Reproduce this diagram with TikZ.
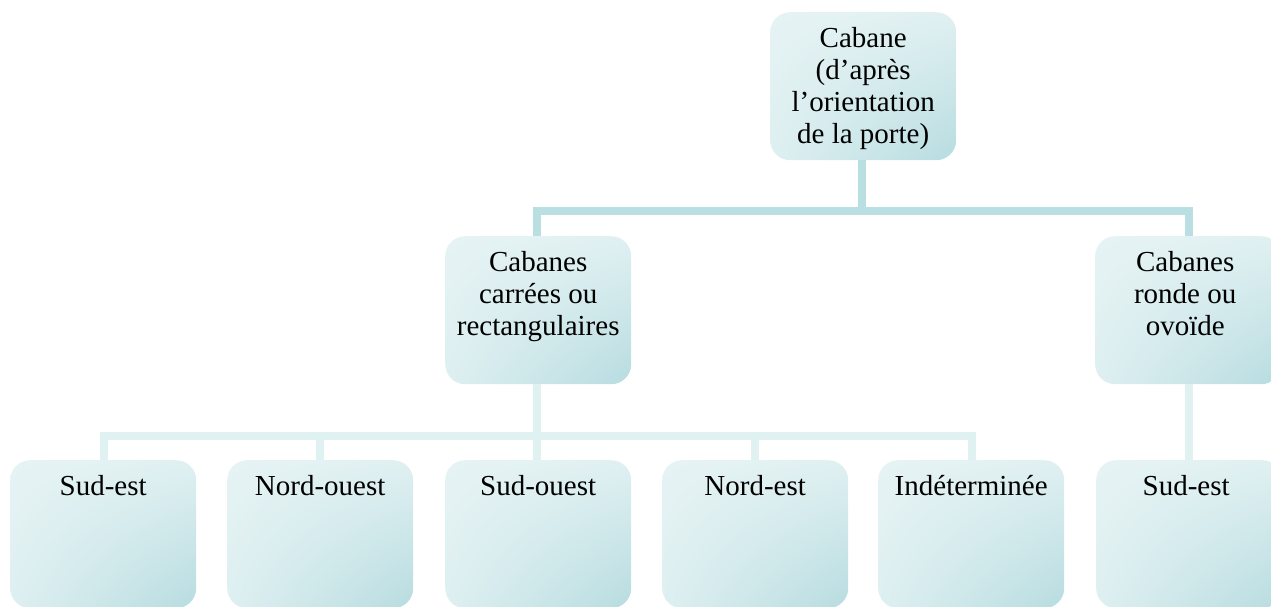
\documentclass[tikz,border=0pt]{standalone}
\usepackage{fontspec}
\setmainfont{Liberation Serif}
\usetikzlibrary{shadings,calc}
\definecolor{boxlight}{HTML}{E6F3F4}
\definecolor{boxmid}{HTML}{D2EAEC}
\definecolor{boxdark}{HTML}{B7DCE0}
\definecolor{lineup}{HTML}{BADFE2}
\definecolor{linelow}{HTML}{E0F1F2}
\begin{document}
\begin{tikzpicture}[x=1pt,y=-1pt,
  box/.style={rectangle, rounded corners=20pt, minimum width=186pt, minimum height=148pt,
    inner sep=0pt, anchor=north west, upper left=boxlight, lower left=boxlight!60!boxmid,
    upper right=boxlight!70!boxmid, lower right=boxdark},
  txt/.style={anchor=north, inner sep=0pt, align=center,
    font=\fontsize{29}{32}\selectfont},
  conup/.style={draw=lineup, line width=8pt, line join=miter},
  conlow/.style={draw=linelow, line width=8pt, line join=miter}]
\useasboundingbox (0,0) rectangle (1271,607);
\begin{scope}
\clip (0,0) rectangle (1271,607);
% boxes
\node[box] (top) at (770,12) {};
\node[box] (mL) at (445,236) {};
\node[box] (mR) at (1095,236) {};
\node[box] (b1) at (10,460) {};
\node[box] (b2) at (227,460) {};
\node[box] (b3) at (445,460) {};
\node[box] (b4) at (662,460) {};
\node[box] (b5) at (878,460) {};
\node[box] (b6) at (1096,460) {};
% connectors
\coordinate (jt) at (862,211);
\coordinate (jl) at (537,436);
\draw[conup] (top.south -| jt) -- (jt) -| (mL.north -| 537,0);
\draw[conup] (jt) -| (mR.north -| 1189,0);
\draw[conlow] (mL.south -| jl) -- (jl) -| (b1.north -| 104,0);
\draw[conlow] (jl) -| (b2.north -| 320,0);
\draw[conlow] (jl) -- (b3.north -| jl);
\draw[conlow] (jl) -| (b4.north -| 755,0);
\draw[conlow] (jl) -| (b5.north -| 972,0);
\draw[conlow] (mR.south -| 1189,0) -- (b6.north -| 1189,0);
% texts
\node[txt] (ttop) at ($(top.north)+(0,15)$) {Cabane\\(d’après\\l’orientation\\de la porte)};
\node[txt] (tmL) at ($(mL.north)+(0,15)$) {Cabanes\\carrées ou\\rectangulaires};
\node[txt] (tmR) at ($(mR.north)+(-3,15)$) {Cabanes\\ronde ou\\ovoïde};
\node[txt] (tb1) at ($(b1.north)+(0,15)$) {Sud-est};
\node[txt] (tb2) at ($(b2.north)+(0,15)$) {Nord-ouest};
\node[txt] (tb3) at ($(b3.north)+(0,15)$) {Sud-ouest};
\node[txt] (tb4) at ($(b4.north)+(0,15)$) {Nord-est};
\node[txt] (tb5) at ($(b5.north)+(0,15)$) {Indéterminée};
\node[txt] (tb6) at ($(b6.north)+(-3,15)$) {Sud-est};
\end{scope}
\end{tikzpicture}
\end{document}
